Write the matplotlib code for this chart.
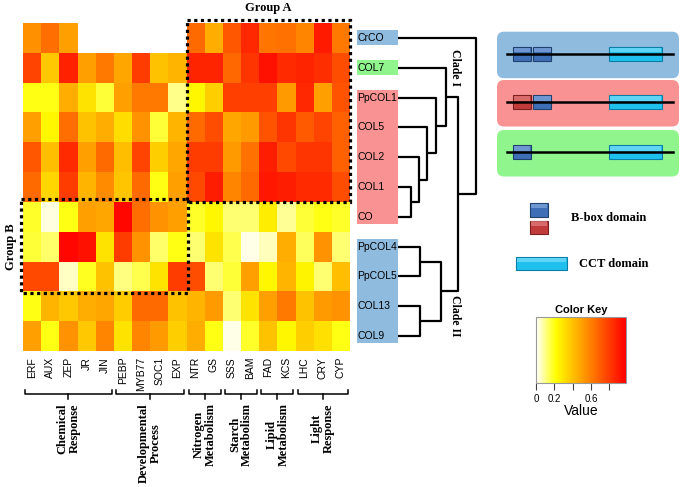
import numpy as np
import matplotlib
matplotlib.use('Agg')
import matplotlib.pyplot as plt
from matplotlib.colors import LinearSegmentedColormap
from matplotlib.patches import Rectangle, FancyBboxPatch

plt.rcParams['font.family'] = ['Liberation Sans', 'DejaVu Sans']
SERIF = ['Liberation Serif', 'DejaVu Serif']

# ---- data ----
genes = ['ERF', 'AUX', 'ZEP', 'JR', 'JIN', 'PEBP', 'MYB77', 'SOC1', 'EXP',
         'NTR', 'GS', 'SSS', 'BAM', 'FAD', 'KCS', 'LHC', 'CRY', 'CYP']
proteins = ['CrCO', 'COL7', 'PpCOL1', 'COL5', 'COL2', 'COL1', 'CO',
            'PpCOL4', 'PpCOL5', 'COL13', 'COL9']
nan = np.nan
CrCO = [0.55, 0.65, 0.50, nan, nan, nan, nan, nan, nan, 0.66, 0.46, 0.72, 0.86, 0.63, 0.64, 0.58, 0.90, 0.62]
COL7 = [0.78, 0.38, 0.88, 0.50, 0.62, 0.48, 0.80, 0.40, 0.44, 0.87, 0.87, 0.67, 0.82, 0.93, 0.85, 0.87, 0.84, 0.75]
PpCOL1 = [0.20, 0.20, 0.46, 0.30, 0.17, 0.50, 0.62, 0.62, 0.10, 0.24, 0.36, 0.79, 0.79, 0.79, 0.52, 0.86, 0.50, 0.73]
COL5 = [0.50, 0.24, 0.65, 0.40, 0.46, 0.32, 0.54, 0.17, 0.44, 0.66, 0.75, 0.48, 0.52, 0.73, 0.82, 0.71, 0.78, 0.69]
COL2 = [0.72, 0.41, 0.85, 0.50, 0.66, 0.41, 0.78, 0.36, 0.48, 0.80, 0.80, 0.52, 0.64, 0.89, 0.76, 0.82, 0.82, 0.69]
COL1 = [0.66, 0.34, 0.80, 0.44, 0.56, 0.39, 0.66, 0.20, 0.50, 0.76, 0.89, 0.58, 0.66, 0.91, 0.89, 0.85, 0.85, 0.75]
CO = [0.18, 0.03, 0.20, 0.50, 0.48, 0.96, 0.65, 0.54, 0.50, 0.18, 0.24, 0.12, 0.12, 0.27, 0.09, 0.17, 0.20, 0.18]
PpCOL4 = [0.17, 0.13, 0.96, 0.93, 0.30, 0.80, 0.54, 0.13, 0.20, 0.12, 0.30, 0.15, 0.02, 0.06, 0.46, 0.14, 0.54, 0.12]
PpCOL5 = [0.76, 0.76, 0.05, 0.19, 0.40, 0.11, 0.15, 0.30, 0.80, 0.75, 0.12, 0.17, 0.50, 0.24, 0.44, 0.25, 0.12, 0.41]
COL13 = [0.20, 0.44, 0.38, 0.46, 0.48, 0.37, 0.66, 0.66, 0.40, 0.44, 0.52, 0.12, 0.30, 0.50, 0.62, 0.40, 0.52, 0.54]
COL9 = [0.50, 0.20, 0.54, 0.38, 0.58, 0.30, 0.58, 0.52, 0.36, 0.46, 0.20, 0.02, 0.18, 0.40, 0.24, 0.36, 0.31, 0.20]

# functional groups of the columns (name, first col, last col + 1)
func_groups = [('Chemical\nResponse', 0, 5), ('Developmental\nProcess', 5, 9),
               ('Nitrogen\nMetabolism', 9, 11), ('Starch\nMetabolism', 11, 13),
               ('Lipid\nMetabolism', 13, 15), ('Light\nResponse', 15, 18)]
# row label colour class
row_class = ['blue', 'green', 'pink', 'pink', 'pink', 'pink', 'pink',
             'blue', 'blue', 'blue', 'blue']
class_clr = {'blue': '#8fbbdf', 'green': '#8ff58c', 'pink': '#f99393'}
# tree: (child a, child b, height)
links = [(5, 6, 13), (4, 11, 21), (3, 12, 29.5), (2, 13, 38.5), (1, 14, 48.5),
         (7, 8, 22), (9, 10, 22), (16, 17, 43.5), (15, 18, 60), (0, 19, 78.5)]
# domain architectures: B-box colours per panel
arch_bbox = [['#3e6fb6', '#3e6fb6'], ['#c23b3b', '#3e6fb6'], ['#3e6fb6']]

mat = np.array([CrCO, COL7, PpCOL1, COL5, COL2, COL1, CO, PpCOL4, PpCOL5, COL13, COL9])
nr, nc = mat.shape

cmap = LinearSegmentedColormap.from_list('wyr', [(0, 'white'), (0.22, '#ffff00'), (1, '#ff0000')])
cmap.set_bad('white')

W, H = 680, 487
fig = plt.figure(figsize=(W / 100, H / 100), dpi=100)

def px_axes(x0, y0, x1, y1):
    return fig.add_axes([x0 / W, 1 - y1 / H, (x1 - x0) / W, (y1 - y0) / H])

# ---- heatmap ----
ax = px_axes(23, 23, 350, 351)
mesh = ax.pcolormesh(np.ma.masked_invalid(mat), cmap=cmap, vmin=0, vmax=0.98,
                     antialiased=False, linewidth=0)
ax.set_xlim(0, nc)
ax.set_ylim(nr, 0)
ax.axis('off')

for j, g in enumerate(genes):
    ax.text(j + 0.5, 11.2, g, rotation=90, ha='center', va='top', fontsize=7.5, clip_on=False)

for name, a, b in func_groups:
    x0, x1 = a + 0.12, b - 0.12
    ax.plot([x0, x0, x1, x1], [12.32, 12.45, 12.45, 12.32], color='k', lw=1.1, clip_on=False)
    xm = (a + b) / 2
    ax.plot([xm, xm], [12.45, 12.6], color='k', lw=1.1, clip_on=False)
    ax.text(xm, 12.75, name, rotation=90, ha='center', va='top', fontsize=9,
            fontweight='bold', family=SERIF, linespacing=1.0, multialignment='center',
            clip_on=False)

dots = dict(fill=False, edgecolor='k', lw=2.3, linestyle=(0, (1, 1.1)), clip_on=False)
ax.add_patch(Rectangle((9, -0.1), 9, 6.1, **dots))
ax.add_patch(Rectangle((-0.13, 5.9), 9.2, 3.15, **dots))
ax.text(13.5, -0.5, 'Group A', ha='center', va='center', fontsize=9,
        fontweight='bold', family=SERIF, clip_on=False)
ax.text(-0.68, 7.5, 'Group B', ha='center', va='center', rotation=90, fontsize=9,
        fontweight='bold', family=SERIF, clip_on=False)

# ---- row labels + dendrogram ----
axd = px_axes(350, 23, 480, 351)
axd.set_xlim(-48, 82)
axd.set_ylim(nr, 0)
axd.axis('off')

start = 0
for r in range(1, nr + 1):
    if r == nr or row_class[r] != row_class[start]:
        top, bot = start + 0.5 - 0.26, r - 0.5 + 0.24
        axd.add_patch(Rectangle((-41, top), 41, bot - top,
                                facecolor=class_clr[row_class[start]], edgecolor='none'))
        start = r
for r, p in enumerate(proteins):
    axd.text(-40.5, r + 0.5, p, ha='left', va='center', fontsize=7.5)

pos = {r: (0.0, r + 0.5) for r in range(nr)}
for k, (a, b, h) in enumerate(links):
    xa, ya = pos[a]
    xb, yb = pos[b]
    axd.plot([xa, h, h, xb], [ya, ya, yb, yb], color='k', lw=1.6, solid_capstyle='butt')
    pos[nr + k] = (h, (ya + yb) / 2)

axd.text(57, 1.48, 'Clade I', rotation=-90, ha='center', va='center', fontsize=8.5,
         fontweight='bold', family=SERIF)
axd.text(57, 9.83, 'Clade II', rotation=-90, ha='center', va='center', fontsize=8.5,
         fontweight='bold', family=SERIF)

# ---- domain architecture panels ----
axr = px_axes(480, 10, 680, 290)
axr.set_xlim(480, 680)
axr.set_ylim(290, 10)
axr.axis('off')

panel_tops = [31.7, 80, 130]
panel_clrs = ['#8fbbdf', '#f99393', '#8ff58c']

def domain(x0, x1, yc, h, base, edge, light):
    axr.add_patch(Rectangle((x0, yc - h / 2), x1 - x0, h, facecolor=base, edgecolor=edge, lw=0.8))
    axr.add_patch(Rectangle((x0 + 0.8, yc - h / 2 + 0.8), x1 - x0 - 1.6, h * 0.35,
                            facecolor=light, edgecolor='none', alpha=0.6))

for t, pc, bb in zip(panel_tops, panel_clrs, arch_bbox):
    axr.add_patch(FancyBboxPatch((497, t), 182, 46.5, boxstyle='round,pad=0,rounding_size=7',
                                 facecolor=pc, edgecolor='none'))
    yc = t + 22
    axr.plot([507, 673], [yc, yc], color='k', lw=1.8)
    for n, c in enumerate(bb):
        x0 = 513 + n * 20.3
        domain(x0, x0 + 18, yc, 14, c, '#20406e' if c == '#3e6fb6' else '#7a2020',
               '#8fb3e6' if c == '#3e6fb6' else '#e88a8a')
    domain(609, 662, yc, 14, '#1fc0ee', '#0b7ea6', '#8ae3fb')

domain(530, 548, 209.7, 14, '#3e6fb6', '#20406e', '#8fb3e6')
domain(530, 548, 227.3, 13.5, '#c23b3b', '#7a2020', '#e88a8a')
axr.text(571, 218, 'B-box domain', ha='left', va='center', fontsize=9,
         fontweight='bold', family=SERIF)
domain(516, 567, 263.5, 13, '#1fc0ee', '#0b7ea6', '#8ae3fb')
axr.text(579, 264, 'CCT domain', ha='left', va='center', fontsize=9,
         fontweight='bold', family=SERIF)

# ---- colour key ----
cax = px_axes(536, 317.3, 625.7, 383.3)
cb = fig.colorbar(mesh, cax=cax, orientation='horizontal', ticks=[0, 0.2, 0.4, 0.6, 0.8])
cb.ax.set_xticklabels(['0', '0.2', '', '0.6', ''], fontsize=7)
cb.outline.set_edgecolor('#999999')
cb.outline.set_linewidth(0.8)
cax.tick_params(length=5, width=0.8, color='#444444', pad=2.5)
cax.set_title('Color Key', fontsize=8, fontweight='bold', pad=3)
cax.set_xlabel('Value', fontsize=10, labelpad=0)

fig.savefig('out.png', dpi=100, facecolor='white')
